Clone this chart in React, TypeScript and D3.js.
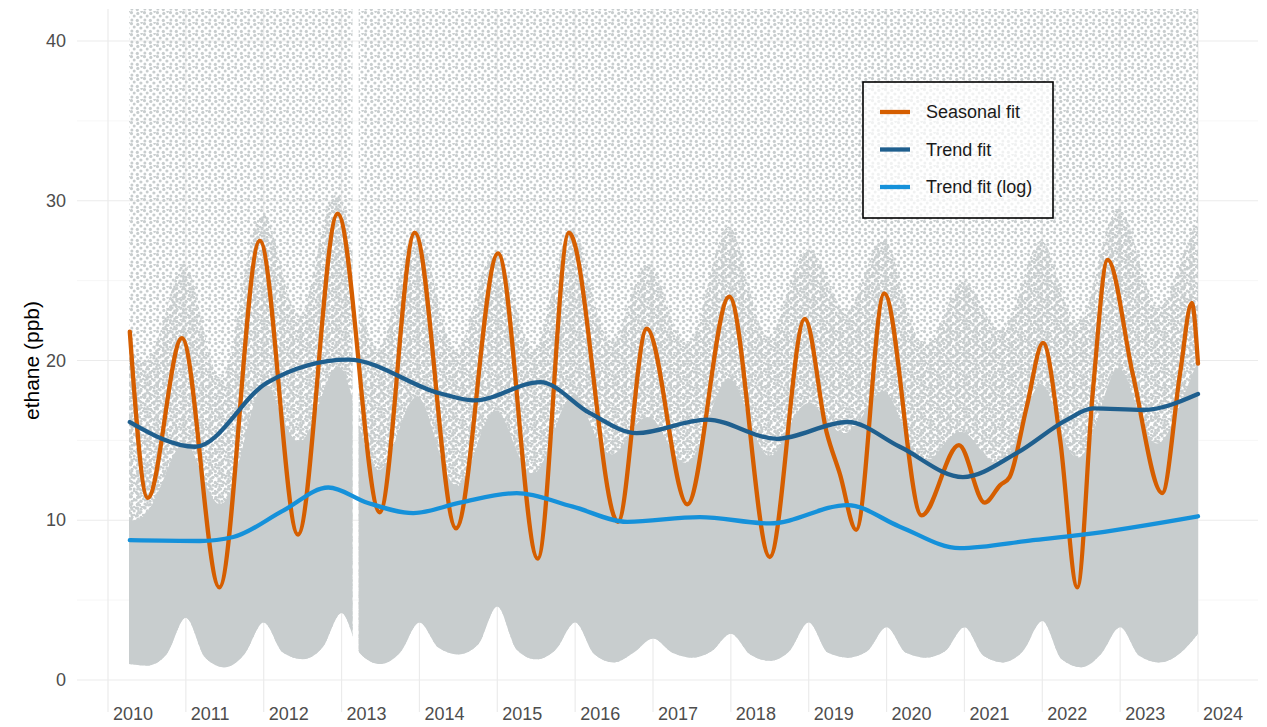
import React from "react";
import * as d3 from "d3";

// ---------- data ----------
const xTickYears = [2010, 2011, 2012, 2013, 2014, 2015, 2016, 2017, 2018, 2019, 2020, 2021, 2022, 2023, 2024];
const yTickValues = [0, 10, 20, 30, 40];
const yMinorValues = [5, 15, 25, 35];

// Seasonal fit (ppb) at year positions
const seasonalYears = [2010.28, 2010.51, 2010.95, 2011.43, 2011.95, 2012.44, 2012.95, 2013.49, 2013.94, 2014.47, 2015.01, 2015.52, 2015.92, 2016.55, 2016.92, 2017.44, 2017.98, 2018.5, 2018.95, 2019.23, 2019.4, 2019.61, 2019.97, 2020.45, 2020.93, 2021.26, 2021.46, 2021.58, 2021.8, 2022.01, 2022.23, 2022.45, 2022.65, 2022.84, 2023.16, 2023.54, 2023.77, 2023.92, 2024.0];
const seasonalValues = [21.8, 11.4, 21.4, 5.8, 27.5, 9.1, 29.2, 10.5, 28.0, 9.5, 26.7, 7.6, 28.0, 9.9, 22.0, 11.0, 24.0, 7.7, 22.6, 15.5, 12.9, 9.4, 24.2, 10.3, 14.7, 11.1, 12.2, 12.7, 17.1, 21.1, 15.0, 5.8, 18.1, 26.3, 19.2, 11.7, 19.2, 23.6, 19.8];

// Trend fit
const trendYears = [2010.28, 2011.12, 2012.04, 2013.08, 2014.26, 2014.71, 2015.55, 2016.19, 2016.79, 2017.69, 2018.59, 2019.5, 2020.17, 2020.98, 2021.67, 2022.32, 2022.65, 2023.29, 2024.0];
const trendValues = [16.15, 14.6, 18.6, 20.05, 17.95, 17.5, 18.65, 16.7, 15.45, 16.3, 15.1, 16.15, 14.6, 12.7, 14.2, 16.3, 17.0, 16.9, 17.9];

// Trend fit (log)
const trendLogYears = [2010.28, 2011.18, 2011.61, 2012.25, 2012.83, 2013.33, 2013.92, 2014.52, 2015.25, 2015.97, 2016.67, 2017.6, 2018.5, 2019.5, 2020.17, 2020.94, 2021.88, 2022.52, 2024.0];
const trendLogValues = [8.75, 8.7, 8.95, 10.6, 12.05, 11.1, 10.45, 11.1, 11.7, 10.85, 9.9, 10.2, 9.8, 10.95, 9.6, 8.25, 8.75, 9.1, 10.25];

// Observation cloud: envelopes of the hourly ethane points (ppb), quarterly
const cloudYears = [2010.27, 2010.5, 2010.75, 2011.0, 2011.25, 2011.5, 2011.75, 2012.0, 2012.25, 2012.5, 2012.75, 2013.0, 2013.25, 2013.5, 2013.75, 2014.0, 2014.25, 2014.5, 2014.75, 2015.0, 2015.25, 2015.5, 2015.75, 2016.0, 2016.25, 2016.5, 2016.75, 2017.0, 2017.25, 2017.5, 2017.75, 2018.0, 2018.25, 2018.5, 2018.75, 2019.0, 2019.25, 2019.5, 2019.75, 2020.0, 2020.25, 2020.5, 2020.75, 2021.0, 2021.25, 2021.5, 2021.75, 2022.0, 2022.25, 2022.5, 2022.75, 2023.0, 2023.25, 2023.5, 2023.75, 2024.0];
const cloudLow = [1.0, 0.9, 1.6, 3.9, 1.4, 0.8, 1.6, 3.6, 1.7, 1.3, 2.0, 4.2, 1.6, 1.0, 1.7, 3.6, 2.0, 1.6, 2.2, 4.6, 1.9, 1.3, 1.9, 3.6, 1.6, 1.1, 1.7, 2.6, 1.7, 1.4, 1.8, 2.9, 1.6, 1.2, 1.8, 3.6, 1.7, 1.4, 1.8, 3.3, 1.7, 1.4, 1.8, 3.3, 1.5, 1.1, 1.8, 3.7, 1.3, 0.8, 1.6, 3.3, 1.5, 1.1, 1.6, 2.9];
const cloudDense = [10, 10, 13, 16, 12, 10, 15, 20, 16, 14, 18, 21, 15, 12, 16, 19, 14, 11, 15, 18, 14, 12, 16, 19, 15, 13.5, 16, 17, 14, 13, 17, 20, 16, 13, 16, 18, 16, 15, 17, 19, 15, 13, 15, 16, 14, 13, 16, 20, 15, 13, 17, 21, 16, 14, 17, 20];
const cloudMid = [21, 19, 23, 28, 21, 17, 26, 31, 25, 21, 29, 32, 23, 19, 26, 30, 23, 19, 25, 28, 23, 19, 26, 30, 23, 20, 25, 27, 22, 20, 26, 30, 24, 20, 25, 28, 25, 22, 26, 29, 23, 20, 23, 26, 23, 21, 25, 29, 24, 21, 27, 31, 26, 22, 26, 29];
const cloudCeiling = 42;
// periods with observations (a data gap early 2013)
const dataSegments: [number, number][] = [[2010.27, 2013.14], [2013.22, 2024.0]];

// ---------- layout ----------
const W = 1267;
const H = 727;
const panel = { left: 77, right: 1258, top: 9, bottom: 712 };

const COLORS = {
  seasonal: "#D55E00",
  trend: "#1F5F8E",
  trendLog: "#1591DA",
  cloud: "#C8CDCE",
  grid: "#EBEBEB",
  gridMinor: "#F4F4F4",
  text: "#4D4D4D",
};

export default function App() {
  const x = d3.scaleLinear().domain([2010, 2024]).range([108, 1198]);
  const y = d3.scaleLinear().domain([0, 40]).range([680, 41]);

  const line = d3
    .line<[number, number]>()
    .x((d) => x(d[0]))
    .y((d) => y(d[1]))
    .curve(d3.curveMonotoneX);

  const seasonal = seasonalYears.map((t, i) => [t, seasonalValues[i]] as [number, number]);
  const trend = trendYears.map((t, i) => [t, trendValues[i]] as [number, number]);
  const trendLog = trendLogYears.map((t, i) => [t, trendLogValues[i]] as [number, number]);

  type C = { t: number; lo: number; dense: number; mid: number };
  const cloud: C[] = cloudYears.map((t, i) => ({ t, lo: cloudLow[i], dense: cloudDense[i], mid: cloudMid[i] }));

  // full extent of the observations (lower envelope to ceiling)
  const extentPath = d3
    .area<C>()
    .x((d) => x(d.t))
    .y0((d) => y(d.lo))
    .y1(() => y(cloudCeiling))
    .curve(d3.curveMonotoneX)(cloud) as string;
  // density bands (clipped by the extent above)
  const bandTo = (key: "dense" | "mid") =>
    d3
      .area<C>()
      .x((d) => x(d.t))
      .y0(() => y(0) + 20)
      .y1((d) => y(d[key]))
      .curve(d3.curveBasis)(cloud) as string;

  const legendItems = [
    { label: "Seasonal fit", color: COLORS.seasonal },
    { label: "Trend fit", color: COLORS.trend },
    { label: "Trend fit (log)", color: COLORS.trendLog },
  ];

  const font = "'Liberation Sans', Arial, Helvetica, sans-serif";
  const c = COLORS.cloud;

  return (
    <div style={{ position: "fixed", left: 0, top: 0 }}>
      <svg width={W} height={H} viewBox={`0 0 ${W} ${H}`} style={{ display: "block", background: "#fff" }}>
        <defs>
          <clipPath id="panelClip">
            <rect x={panel.left} y={panel.top} width={panel.right - panel.left} height={panel.bottom - panel.top} />
          </clipPath>
          <clipPath id="dataClip">
            {dataSegments.map(([a, b], i) => (
              <rect key={i} x={x(a)} y={panel.top} width={x(b) - x(a)} height={panel.bottom - panel.top} />
            ))}
          </clipPath>
          <clipPath id="extentClip">
            <path d={extentPath} />
          </clipPath>
          <pattern id="sparseDots" width={13} height={11} patternUnits="userSpaceOnUse">
            <circle cx={1.5} cy={1.6} r={1.6} fill={c} />
            <circle cx={7.8} cy={2.4} r={1.6} fill={c} />
            <circle cx={4.2} cy={5.1} r={1.5} fill={c} />
            <circle cx={10.9} cy={6.0} r={1.6} fill={c} />
            <circle cx={1.9} cy={8.9} r={1.5} fill={c} />
            <circle cx={7.3} cy={9.4} r={1.6} fill={c} />
            <circle cx={11.6} cy={0.6} r={1.3} fill={c} />
          </pattern>
          <pattern id="midDots" width={9} height={8} patternUnits="userSpaceOnUse">
            <circle cx={4.6} cy={0.9} r={1.5} fill={c} />
            <circle cx={1.1} cy={4.0} r={1.5} fill={c} />
            <circle cx={6.0} cy={5.2} r={1.5} fill={c} />
            <circle cx={2.4} cy={1.3} r={1.2} fill={c} />
            <circle cx={8.1} cy={3.0} r={1.2} fill={c} />
            <circle cx={3.5} cy={6.9} r={1.3} fill={c} />
          </pattern>
        </defs>

        {/* grid */}
        <g>
          {yMinorValues.map((v) => (
            <line key={"ym" + v} x1={panel.left} x2={panel.right} y1={y(v)} y2={y(v)} stroke={COLORS.gridMinor} strokeWidth={0.8} />
          ))}
          {yTickValues.map((v) => (
            <line key={"y" + v} x1={panel.left} x2={panel.right} y1={y(v)} y2={y(v)} stroke={COLORS.grid} strokeWidth={1.2} />
          ))}
          {xTickYears.map((t) => (
            <line key={"x" + t} x1={x(t)} x2={x(t)} y1={panel.top} y2={panel.bottom} stroke={COLORS.grid} strokeWidth={1.2} />
          ))}
        </g>

        {/* observation cloud */}
        <g clipPath="url(#panelClip)">
          <g clipPath="url(#dataClip)">
            <g clipPath="url(#extentClip)">
              <path d={extentPath} fill="url(#sparseDots)" />
              <path d={bandTo("mid")} fill="url(#midDots)" />
              <path d={bandTo("dense")} fill={c} />
            </g>
          </g>
        </g>

        {/* fits */}
        <g clipPath="url(#panelClip)" fill="none" strokeLinecap="round" strokeLinejoin="round">
          <path d={line(seasonal) as string} stroke={COLORS.seasonal} strokeWidth={4.3} />
          <path d={line(trend) as string} stroke={COLORS.trend} strokeWidth={4.3} />
          <path d={line(trendLog) as string} stroke={COLORS.trendLog} strokeWidth={4.3} />
        </g>

        {/* axes labels */}
        <g fontFamily={font} fontSize={18} fill={COLORS.text}>
          {yTickValues.map((v) => (
            <text key={"yl" + v} x={66} y={y(v)} textAnchor="end" dominantBaseline="central">
              {v}
            </text>
          ))}
          {xTickYears.map((t) => (
            <text key={"xl" + t} x={x(t) + 5} y={714} textAnchor="start" dominantBaseline="central">
              {t}
            </text>
          ))}
        </g>
        <text
          transform={`translate(31, ${(panel.top + panel.bottom) / 2}) rotate(-90)`}
          textAnchor="middle"
          dominantBaseline="central"
          fontFamily={font}
          fontSize={21}
          fill="#000"
        >
          ethane (ppb)
        </text>

        {/* legend */}
        <g fontFamily={font} fontSize={18}>
          <rect x={863} y={82} width={190} height={136} fill="#fff" fillOpacity={0.72} stroke="#000" strokeWidth={1.6} />
          {legendItems.map((it, i) => (
            <g key={it.label} transform={`translate(0, ${112 + i * 37.5})`}>
              <line x1={880} x2={910} y1={0} y2={0} stroke={it.color} strokeWidth={4.3} />
              <text x={926} y={0} dominantBaseline="central" fill="#1a1a1a">
                {it.label}
              </text>
            </g>
          ))}
        </g>
      </svg>
    </div>
  );
}
